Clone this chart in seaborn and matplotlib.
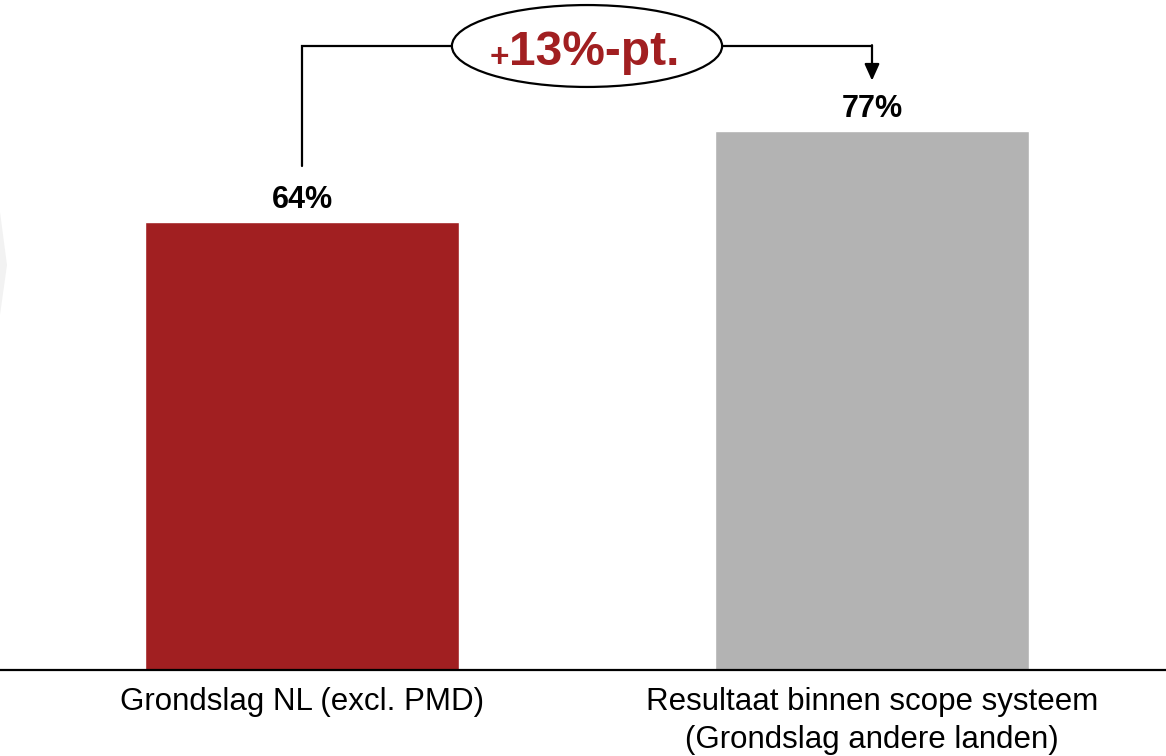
import matplotlib.pyplot as plt
import matplotlib.patches as mpatches
import seaborn as sns
import pandas as pd

# data
categories = ["Grondslag NL (excl. PMD)",
              "Resultaat binnen scope systeem\n(Grondslag andere landen)"]
values = [64, 77]
value_labels = ["64%", "77%"]
delta_label = "13%-pt."

RED = "#A11F21"
GREY = "#B3B3B3"

sns.set_style("white")
plt.rcParams["font.family"] = ["Liberation Sans", "DejaVu Sans"]

df = pd.DataFrame({"cat": categories, "val": values})

fig = plt.figure(figsize=(11.66, 7.56), dpi=100)
ax = fig.add_axes([0, 86 / 756, 1, 670 / 756])

sns.barplot(data=df, x="cat", y="val", hue="cat", palette=[RED, GREY],
            width=0.551, legend=False, ax=ax, saturation=1)

ax.set_xlim(-302 / 570, 1 + (1166 - 872) / 570)
ax.set_ylim(0, 670 / 7)

for sp in ["top", "left", "right"]:
    ax.spines[sp].set_visible(False)
ax.spines["bottom"].set_linewidth(1.6)
ax.spines["bottom"].set_color("black")
ax.set_yticks([])
ax.set_xlabel("")
ax.set_ylabel("")
ax.tick_params(axis="x", length=0, pad=12, labelsize=22.5, labelcolor="black")
for lbl in ax.get_xticklabels():
    lbl.set_linespacing(1.35)

# value labels
for i, (v, s) in enumerate(zip(values, value_labels)):
    ax.text(i, v + 1.05, s, ha="center", va="bottom", fontsize=22,
            fontweight="bold", color="black")

# bracket
top_y = (670 - 46) / 7
ax.plot([0, 0, 0.5 - 0.237], [values[0] + 8, top_y, top_y], color="black", lw=1.6,
        solid_joinstyle="miter")
ax.plot([0.5 + 0.237, 1], [top_y, top_y], color="black", lw=1.6)
ax.annotate("", xy=(1, values[1] + 7.2), xytext=(1, top_y + 0.12),
            arrowprops=dict(arrowstyle="-|>,head_length=1.0,head_width=0.45",
                            color="black", lw=1.6, shrinkA=0, shrinkB=0))
ell = mpatches.Ellipse((0.5, top_y), 0.474, 11.7, facecolor="white",
                       edgecolor="black", lw=1.6, zorder=5)
ax.add_patch(ell)
ax.text(0.363, top_y - 2.7, delta_label, ha="left", va="baseline",
        fontsize=34.5, fontweight="bold", color=RED, zorder=6)
ax.text(0.364, top_y - 3.0, "+", ha="right", va="baseline",
        fontsize=24, fontweight="bold", color=RED, zorder=6)

# faint chevron at left edge
fig.patches.append(mpatches.Polygon([(0, 1 - 212 / 756), (7 / 1166, 1 - 265 / 756),
                                     (0, 1 - 315 / 756)], closed=True,
                                    transform=fig.transFigure, facecolor="#F2F2F2",
                                    edgecolor="none"))

fig.savefig("out.png", dpi=100)
